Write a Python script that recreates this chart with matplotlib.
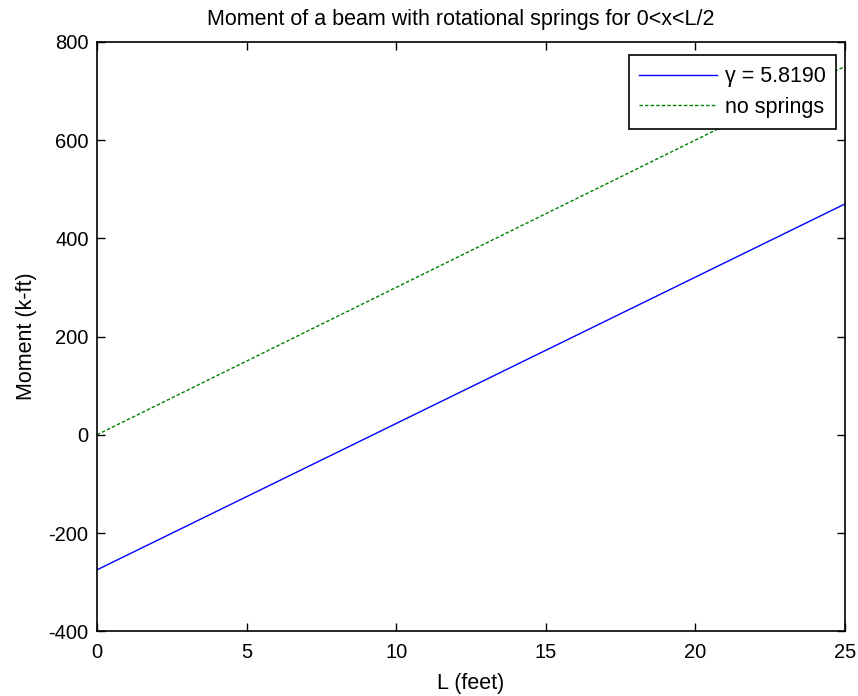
import numpy as np
import matplotlib
matplotlib.use('Agg')
import matplotlib.pyplot as plt

plt.rcParams['font.family'] = ['Liberation Sans', 'DejaVu Sans']
plt.rcParams['font.size'] = 14
plt.rcParams['axes.unicode_minus'] = False

# span lengths (feet) and moments (k-ft)
L_feet = [0, 5, 10, 15, 20, 25]
moment_springs = [-275, -126, 23, 172, 321, 470]
moment_no_springs = [0, 150, 300, 450, 600, 750]

fig = plt.figure(figsize=(8.58, 6.96), dpi=100)
ax = fig.add_axes([0.113, 0.093, 0.872, 0.847])

ax.plot(L_feet, moment_springs, color='#0000ff', lw=1.0, label='\u03b3 = 5.8190')
ax.plot(L_feet, moment_no_springs, color='#008000', lw=1.0, ls=(0, (2.5, 1.5)), label='no springs')

ax.set_xlim(0, 25)
ax.set_ylim(-400, 800)
ax.set_xticks([0, 5, 10, 15, 20, 25])
ax.set_yticks([-400, -200, 0, 200, 400, 600, 800])
ax.tick_params(direction='in', length=6, width=1, top=True, right=True, labelsize=14.5)
ax.tick_params(axis='x', pad=8.5)
ax.tick_params(axis='y', pad=6)
for s in ax.spines.values():
    s.set_linewidth(1.2)

ax.set_title('Moment of a beam with rotational springs for 0<x<L/2', fontsize=15.5, pad=12, x=0.486)
ax.set_xlabel('L (feet)', fontsize=15.5, labelpad=8)
ax.set_ylabel('Moment (k-ft)', fontsize=15.5, labelpad=8)

leg = ax.legend(loc='upper right', bbox_to_anchor=(0.988, 0.977), fontsize=15.5,
                fancybox=False, framealpha=1, edgecolor='black',
                handlelength=3.6, handletextpad=0.35, borderaxespad=0,
                borderpad=0.5, labelspacing=0.45)
leg.get_frame().set_linewidth(1.2)

fig.savefig('out.png', dpi=100)
